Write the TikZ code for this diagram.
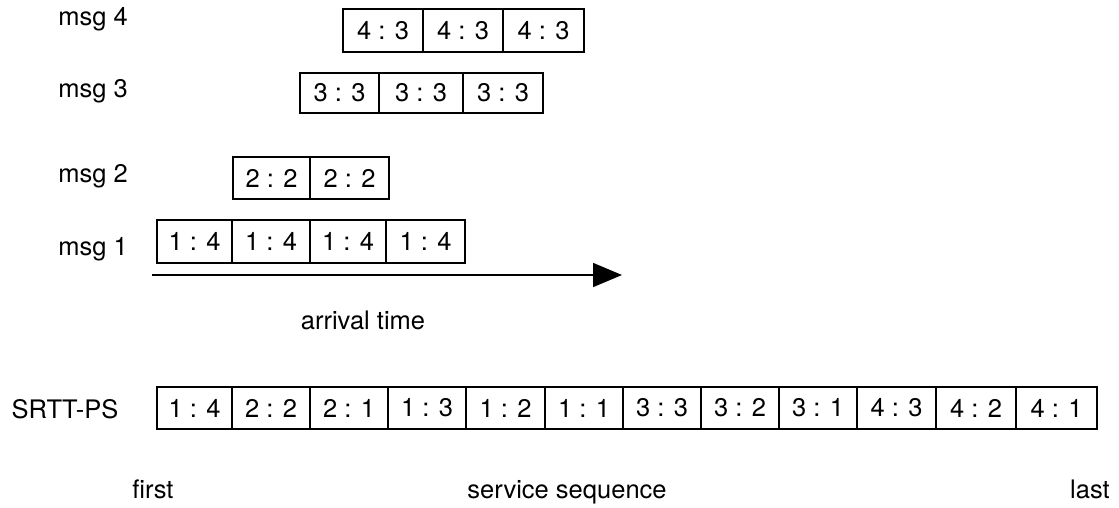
\documentclass[tikz,border=0pt]{standalone}
\usepackage{fontspec}
\setmainfont{TeX Gyre Heros}
\usetikzlibrary{arrows.meta}
\tikzset{
  cellbox/.style={draw, line width=1.5pt, inner sep=0pt, font=\fontsize{25.5}{30}\selectfont},
  lbl/.style={anchor=base, inner sep=0pt, font=\fontsize{25.5}{30}\selectfont},
  axisarrow/.style={line width=1.6pt, -{Triangle[length=29pt,width=24pt]}}
}
\begin{document}
\begin{tikzpicture}[x=1pt,y=-1pt]
\useasboundingbox (0,0) rectangle (1119,507);
% labels
\node[lbl] (m4) at (93,25) {msg 4};
\node[lbl] (m3) at (93,97) {msg 3};
\node[lbl] (m2) at (93,182) {msg 2};
\node[lbl] (m1) at (93,255) {msg 1};
\node[lbl] (at) at (363,329) {arrival time};
\node[lbl] (sp) at (65,418) {SRTT-PS};
\node[lbl] (fi) at (153,498) {first};
\node[lbl] (ss) at (567,498) {service sequence};
\node[lbl] (la) at (1090,498) {last};
% msg 4
\foreach \a/\b/\t [count=\i] in {343/423/{4 : 3},423/503/{4 : 3},503/584/{4 : 3}}
  \node[cellbox, minimum width={(\b-\a)*1pt}, minimum height=43pt] (r4c\i) at ({(\a+\b)/2},30.5) {\t};
% msg 3
\foreach \a/\b/\t [count=\i] in {300/379/{3 : 3},379/463/{3 : 3},463/543/{3 : 3}}
  \node[cellbox, minimum width={(\b-\a)*1pt}, minimum height=40pt] (r3c\i) at ({(\a+\b)/2},93) {\t};
% msg 2
\foreach \a/\b/\t [count=\i] in {233/310/{2 : 2},310/389/{2 : 2}}
  \node[cellbox, minimum width={(\b-\a)*1pt}, minimum height=42pt] (r2c\i) at ({(\a+\b)/2},178) {\t};
% msg 1
\foreach \a/\b/\t [count=\i] in {157/232/{1 : 4},232/310/{1 : 4},310/386/{1 : 4},386/465/{1 : 4}}
  \node[cellbox, minimum width={(\b-\a)*1pt}, minimum height=43pt] (r1c\i) at ({(\a+\b)/2},241.5) {\t};
% arrow
\coordinate (as) at (152,275);
\coordinate (ae) at (622,275);
\draw[axisarrow] (as) -- (ae);
% service sequence
\foreach \a/\b/\t [count=\i] in {157/232/{1 : 4},232/310/{2 : 2},310/388/{2 : 1},388/466/{1 : 3},466/545/{1 : 2},545/623/{1 : 1},623/701/{3 : 3},701/779/{3 : 2},779/857/{3 : 1},857/936/{4 : 3},936/1016/{4 : 2},1016/1097/{4 : 1}}
  \node[cellbox, minimum width={(\b-\a)*1pt}, minimum height=42pt] (sc\i) at ({(\a+\b)/2},408) {\t};
\end{tikzpicture}
\end{document}
